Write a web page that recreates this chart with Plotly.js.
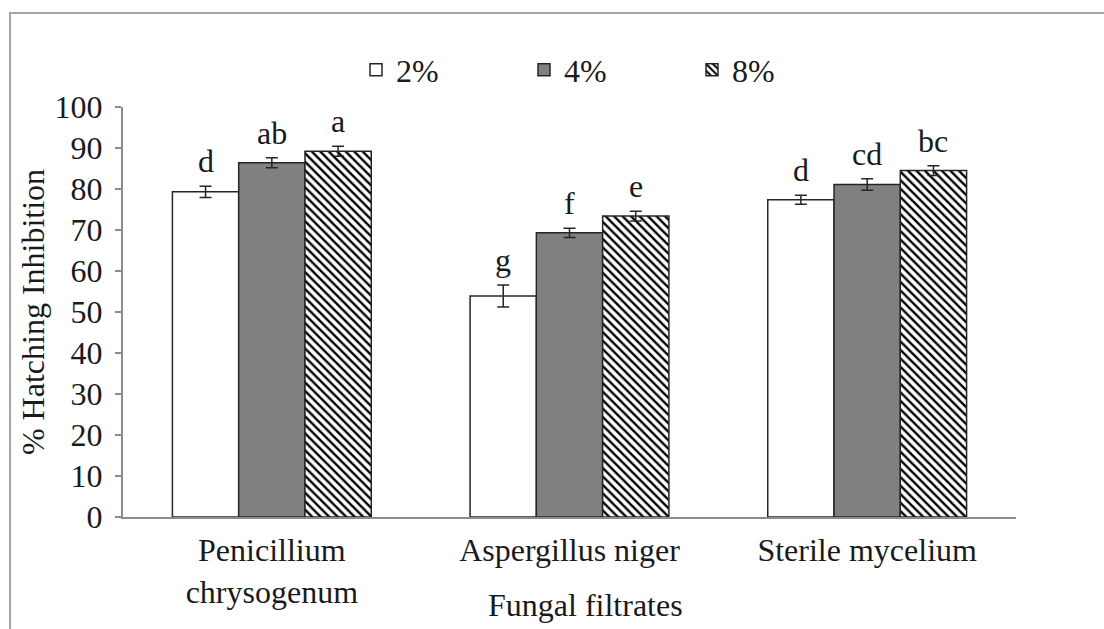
<!DOCTYPE html>
<html>
<head>
<meta charset="utf-8">
<script src="https://cdn.plot.ly/plotly-3.0.1.min.js"></script>
<style>html,body{margin:0;padding:0;background:#fff;}#chart{width:1104px;height:629px;}</style>
</head>
<body>
<div id="chart"></div>
<script>
const categories = ['Penicillium chrysogenum', 'Aspergillus niger', 'Sterile mycelium'];
const tickLabels = ['Penicillium<br>chrysogenum', 'Aspergillus niger', 'Sterile mycelium'];
const seriesNames = ['2%', '4%', '8%'];
const values2 = [79.3, 53.9, 77.4];
const errors2 = [1.4, 2.7, 1.1];
const values4 = [86.4, 69.3, 81.1];
const errors4 = [1.2, 1.1, 1.4];
const values8 = [89.2, 73.4, 84.5];
const errors8 = [1.2, 1.2, 1.2];
const letters2 = ['d', 'g', 'd'];
const letters4 = ['ab', 'f', 'cd'];
const letters8 = ['a', 'e', 'bc'];
const yTickVals = [0, 10, 20, 30, 40, 50, 60, 70, 80, 90, 100];

const FONT = '"Liberation Serif", "Times New Roman", "DejaVu Serif", serif';
const FS = 32;
const TXT = '#1a1a1a';
const EDGE = '#262626';
const AXIS = '#8c8c8c';
const bargap = 0.332;

const errStyle = {type: 'data', visible: true, color: EDGE, thickness: 1.5, width: 6};

function mkTrace(name, vals, errs, marker, legendId) {
  return {
    type: 'bar', name: name, x: categories, y: vals,
    error_y: Object.assign({array: errs}, errStyle),
    marker: marker, legend: legendId, hoverinfo: 'skip'
  };
}

const traces = [
  mkTrace(seriesNames[0], values2, errors2, {color: '#ffffff', line: {color: EDGE, width: 1.5}}, 'legend'),
  mkTrace(seriesNames[1], values4, errors4, {color: '#808080', line: {color: EDGE, width: 1.5}}, 'legend2'),
  mkTrace(seriesNames[2], values8, errors8, {color: '#ffffff', line: {color: EDGE, width: 1.5},
    pattern: {shape: '\\', fgcolor: '#000000', bgcolor: '#ffffff', size: 6, solidity: 0.4}}, 'legend3')
];

const L = 123, R = 1016, T = 107, B = 517;
function px(xp) { return (xp - L) / (R - L); }
function py(yp) { return (B - yp) / (B - T); }

const nSeries = 3;
const barW = (1 - bargap) / nSeries;
const allVals = [values2, values4, values8];
const allErrs = [errors2, errors4, errors8];
const allLetters = [letters2, letters4, letters8];
const annotations = [];
for (let k = 0; k < nSeries; k++) {
  for (let i = 0; i < categories.length; i++) {
    annotations.push({
      x: i + (k - 1) * barW, y: allVals[k][i] + allErrs[k][i], xref: 'x', yref: 'y',
      text: allLetters[k][i], showarrow: false, yanchor: 'bottom', yshift: 5,
      font: {family: FONT, size: FS, color: TXT}
    });
  }
}
annotations.push({
  x: px(585), xref: 'paper', y: py(605), yref: 'paper', text: 'Fungal filtrates', showarrow: false,
  xanchor: 'center', yanchor: 'middle',
  font: {family: FONT, size: FS, color: TXT}
});

const legendFont = {family: FONT, size: FS, color: TXT};
const legendBase = {orientation: 'h', yanchor: 'middle', xanchor: 'left', y: py(70),
  bgcolor: 'rgba(0,0,0,0)', borderwidth: 0};

const layout = {
  width: 1104, height: 629,
  margin: {l: L, r: 1104 - R, t: T, b: 629 - B},
  paper_bgcolor: '#ffffff', plot_bgcolor: '#ffffff',
  barmode: 'group', bargap: bargap, bargroupgap: 0,
  font: {family: FONT, size: FS, color: TXT},
  showlegend: true,
  legend: Object.assign({font: Object.assign({}, legendFont)}, legendBase, {x: px(356)}),
  legend2: Object.assign({font: Object.assign({}, legendFont)}, legendBase, {x: px(524)}),
  legend3: Object.assign({font: Object.assign({}, legendFont)}, legendBase, {x: px(692)}),
  xaxis: {
    type: 'category', tickvals: categories, ticktext: tickLabels,
    showline: true, linecolor: AXIS, linewidth: 2, ticks: '', showgrid: false, zeroline: false,
    tickfont: {family: FONT, size: FS, color: TXT}, ticklabelstandoff: 4
  },
  yaxis: {
    range: [0, 100], tickvals: yTickVals, showline: true, linecolor: AXIS, linewidth: 2,
    ticks: 'outside', ticklen: 6, tickcolor: AXIS, tickwidth: 2, showgrid: false, zeroline: false,
    tickfont: {family: FONT, size: FS, color: TXT}, ticklabelstandoff: 6,
    title: {text: '% Hatching Inhibition', font: {family: FONT, size: FS, color: TXT}, standoff: 0}
  },
  annotations: annotations,
  shapes: [{
    type: 'rect', xref: 'paper', yref: 'paper', x0: px(10), x1: px(1120), y0: py(650), y1: py(13),
    line: {color: '#a6a6a6', width: 2}, fillcolor: 'rgba(0,0,0,0)', layer: 'below'
  }]
};

Plotly.newPlot('chart', traces, layout, {displayModeBar: false, staticPlot: true});
</script>
</body>
</html>
